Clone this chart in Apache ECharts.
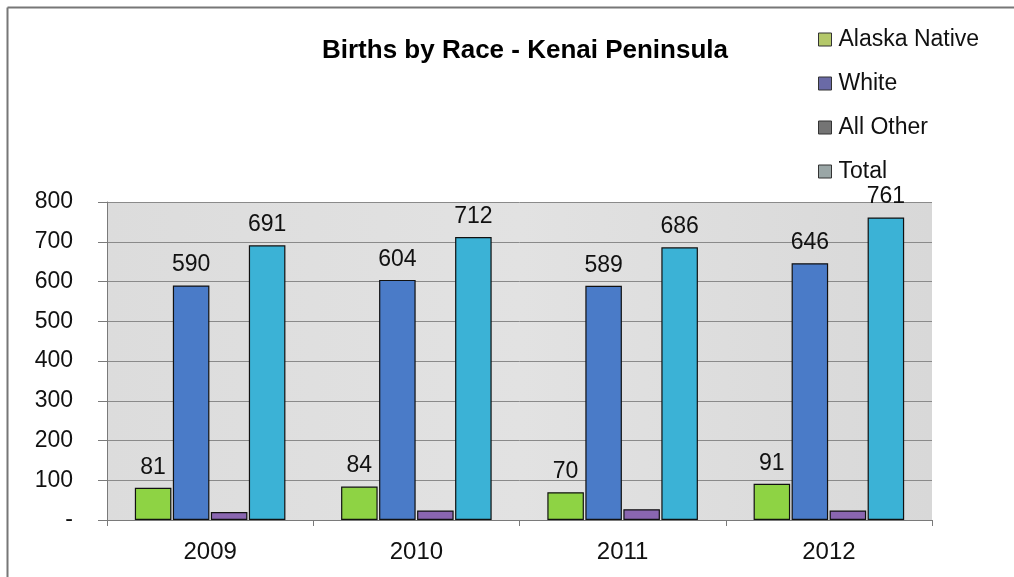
<!DOCTYPE html>
<html>
<head>
<meta charset="utf-8">
<script src="https://cdn.jsdelivr.net/npm/echarts@6/dist/echarts.min.js"></script>
<style>
  html, body { margin: 0; padding: 0; background: #ffffff; }
  #chart { width: 1014px; height: 577px; }
</style>
</head>
<body>
<div id="chart"></div>
<script>
// Births by race, Kenai Peninsula
const years = ['2009', '2010', '2011', '2012'];
const alaskaNative = [81, 84, 70, 91];
const white = [590, 604, 589, 646];
const allOther = [20, 24, 27, 24];
const total = [691, 712, 686, 761];
const yTicks = [0, 100, 200, 300, 400, 500, 600, 700, 800];

const FONT = '"Liberation Sans", Arial, sans-serif';

const chart = echarts.init(document.getElementById('chart'), null, { renderer: 'canvas' });

function labelCfg(show) {
  return {
    show: show,
    position: 'top',
    distance: 9,
    color: '#111',
    fontFamily: FONT,
    fontSize: 23
  };
}

function barSeries(name, data, color, showLabel) {
  return {
    name: name,
    type: 'bar',
    data: data,
    barGap: '4%',
    barCategoryGap: '27%',
    itemStyle: { color: color, borderColor: '#111', borderWidth: 1.2 },
    label: labelCfg(showLabel),
    emphasis: { disabled: true }
  };
}

chart.setOption({
  animation: false,
  backgroundColor: '#ffffff',
  title: {
    text: 'Births by Race - Kenai Peninsula',
    left: 520,
    top: 33,
    textAlign: 'center',
    textStyle: { fontFamily: FONT, fontWeight: 'bold', fontSize: 26, color: '#000' }
  },
  legend: {
    orient: 'vertical',
    left: 813,
    top: 23,
    itemGap: 21,
    itemWidth: 13,
    itemHeight: 13,
    icon: 'rect',
    textStyle: { fontFamily: FONT, fontSize: 23, color: '#111', padding: [0, 0, 0, 2] },
    data: [
      { name: 'Alaska Native', itemStyle: { color: '#b4c86a', borderColor: '#333', borderWidth: 1 } },
      { name: 'White', itemStyle: { color: '#6a6aa6', borderColor: '#333', borderWidth: 1 } },
      { name: 'All Other', itemStyle: { color: '#747474', borderColor: '#333', borderWidth: 1 } },
      { name: 'Total', itemStyle: { color: '#9aa6a6', borderColor: '#333', borderWidth: 1 } }
    ]
  },
  grid: {
    left: 107,
    right: 82,
    top: 202,
    bottom: 57,
    show: true,
    backgroundColor: {
      type: 'linear', x: 0, y: 0, x2: 1, y2: 0,
      colorStops: [
        { offset: 0, color: '#dcdcdc' },
        { offset: 0.5, color: '#e2e2e2' },
        { offset: 1, color: '#d8d8d8' }
      ]
    },
    borderWidth: 0
  },
  xAxis: {
    type: 'category',
    data: years,
    axisLine: { show: true, lineStyle: { color: '#7a7a7a', width: 1 } },
    axisTick: { show: true, length: 6, lineStyle: { color: '#7a7a7a' } },
    axisLabel: { fontFamily: FONT, fontSize: 24, color: '#111', margin: 20 },
    splitLine: { show: false }
  },
  yAxis: {
    type: 'value',
    min: yTicks[0],
    max: yTicks[yTicks.length - 1],
    interval: 100,
    axisLine: { show: true, lineStyle: { color: '#7a7a7a', width: 1 } },
    axisTick: { show: true, length: 9, lineStyle: { color: '#7a7a7a' } },
    axisLabel: {
      fontFamily: FONT,
      fontSize: 23,
      color: '#111',
      margin: 34,
      formatter: function (v) { return v === 0 ? '-' : String(v); }
    },
    splitLine: { show: true, lineStyle: { color: '#8a8a8a', width: 1 } }
  },
  graphic: [
    // outer frame (top and left edges)
    { type: 'line', shape: { x1: 7.5, y1: 7.5, x2: 1014, y2: 7.5 }, style: { stroke: '#777', lineWidth: 2 }, silent: true },
    { type: 'line', shape: { x1: 7.5, y1: 7.5, x2: 7.5, y2: 577 }, style: { stroke: '#777', lineWidth: 2 }, silent: true }
  ],
  series: [
    barSeries('Alaska Native', alaskaNative, '#8ed344', true),
    barSeries('White', white, '#4a7bc8', true),
    barSeries('All Other', allOther, '#8a66b0', false),
    barSeries('Total', total, '#3bb2d6', true)
  ]
});
</script>
</body>
</html>
